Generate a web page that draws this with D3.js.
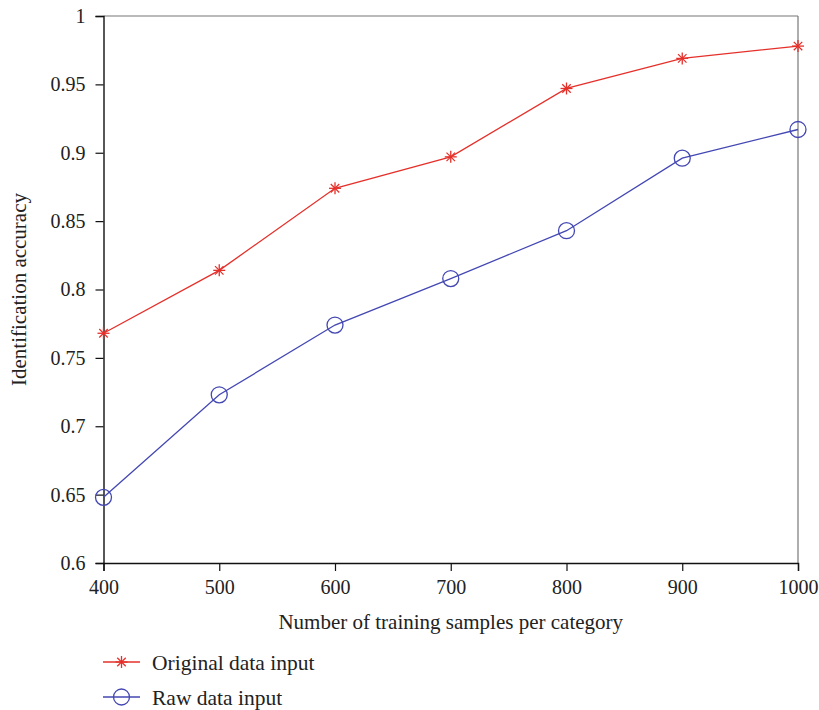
<!DOCTYPE html>
<html>
<head>
<meta charset="utf-8">
<script src="https://cdn.jsdelivr.net/npm/d3@7"></script>
<style>
body { margin: 0; background: #fff; }
text { font-family: "Liberation Serif", "DejaVu Serif", serif; fill: #222; }
</style>
</head>
<body>
<script>
const samples = [400, 500, 600, 700, 800, 900, 1000];
const originalAcc = [0.768, 0.814, 0.874, 0.897, 0.947, 0.969, 0.978];
const rawAcc = [0.648, 0.723, 0.774, 0.808, 0.843, 0.896, 0.917];
const yTicks = [0.6, 0.65, 0.7, 0.75, 0.8, 0.85, 0.9, 0.95, 1];
const seriesNames = ["Original data input", "Raw data input"];

const width = 819, height = 710;
const margin = {left: 103.5, right: 21, top: 16, bottom: 147};
const red = "#e5302a", blue = "#4347b3";

const svg = d3.select("body").append("svg")
    .attr("width", width)
    .attr("height", height);

const x = d3.scaleLinear().domain([400, 1000]).range([margin.left, width - margin.right]);
const y = d3.scaleLinear().domain([0.6, 1]).range([height - margin.bottom, margin.top]);

// top and right frame in grey
svg.append("line")
    .attr("x1", x(400)).attr("x2", x(1000))
    .attr("y1", y(1)).attr("y2", y(1))
    .attr("stroke", "#777").attr("stroke-width", 1.2);
svg.append("line")
    .attr("x1", x(1000)).attr("x2", x(1000))
    .attr("y1", y(1)).attr("y2", y(0.6))
    .attr("stroke", "#777").attr("stroke-width", 1.2);

const xAxis = svg.append("g")
    .attr("transform", `translate(0,${y(0.6)})`)
    .call(d3.axisBottom(x).tickValues(samples).tickSize(8).tickPadding(6).tickFormat(d3.format("d")));
const yAxis = svg.append("g")
    .attr("transform", `translate(${x(400)},0)`)
    .call(d3.axisLeft(y).tickValues(yTicks).tickSize(8).tickPadding(10).tickFormat(d => d === 1 ? "1" : d3.format("")(d)));

[xAxis, yAxis].forEach(a => {
    a.select(".domain").attr("stroke", "#111").attr("stroke-width", 1.4);
    a.selectAll(".tick line").attr("stroke", "#111").attr("stroke-width", 1.2);
    a.selectAll(".tick text").style("font-size", "20px").attr("fill", "#222");
});
xAxis.selectAll(".tick text").attr("dy", "0.85em");

svg.append("text")
    .attr("x", (x(400) + x(1000)) / 2)
    .attr("y", 629)
    .attr("text-anchor", "middle")
    .style("font-size", "21px")
    .text("Number of training samples per category");

svg.append("text")
    .attr("transform", `translate(26,${(y(0.6) + y(1)) / 2}) rotate(-90)`)
    .attr("text-anchor", "middle")
    .style("font-size", "21px")
    .text("Identification accuracy");

const line = d3.line().x((d, i) => x(samples[i])).y(d => y(d));

function star(g, cx, cy, color) {
    const r = 6;
    [0, 45, 90, 135].forEach(a => {
        const rad = a * Math.PI / 180;
        g.append("line")
            .attr("x1", cx - r * Math.cos(rad)).attr("y1", cy - r * Math.sin(rad))
            .attr("x2", cx + r * Math.cos(rad)).attr("y2", cy + r * Math.sin(rad))
            .attr("stroke", color).attr("stroke-width", 1.3);
    });
}

svg.append("path")
    .datum(originalAcc)
    .attr("d", line)
    .attr("fill", "none")
    .attr("stroke", red)
    .attr("stroke-width", 1.3);
const redMarks = svg.append("g");
originalAcc.forEach((v, i) => star(redMarks, x(samples[i]), y(v), red));

svg.append("path")
    .datum(rawAcc)
    .attr("d", line)
    .attr("fill", "none")
    .attr("stroke", blue)
    .attr("stroke-width", 1.3);
svg.append("g").selectAll("circle")
    .data(rawAcc)
    .enter()
    .append("circle")
    .attr("cx", (d, i) => x(samples[i]))
    .attr("cy", d => y(d))
    .attr("r", 8)
    .attr("fill", "none")
    .attr("stroke", blue)
    .attr("stroke-width", 1.3);

// legend
const legend = svg.append("g");
const colors = [red, blue];
seriesNames.forEach((name, i) => {
    const ly = 662 + i * 35;
    legend.append("line")
        .attr("x1", 103).attr("x2", 140)
        .attr("y1", ly).attr("y2", ly)
        .attr("stroke", colors[i]).attr("stroke-width", 1.3);
    if (i === 0) star(legend, 121.5, ly, red);
    else legend.append("circle")
        .attr("cx", 121.5).attr("cy", ly).attr("r", 8)
        .attr("fill", "none").attr("stroke", blue).attr("stroke-width", 1.3);
    legend.append("text")
        .attr("x", 152).attr("y", ly)
        .attr("dy", "0.35em")
        .style("font-size", "21.5px")
        .text(name);
});
</script>
</body>
</html>
